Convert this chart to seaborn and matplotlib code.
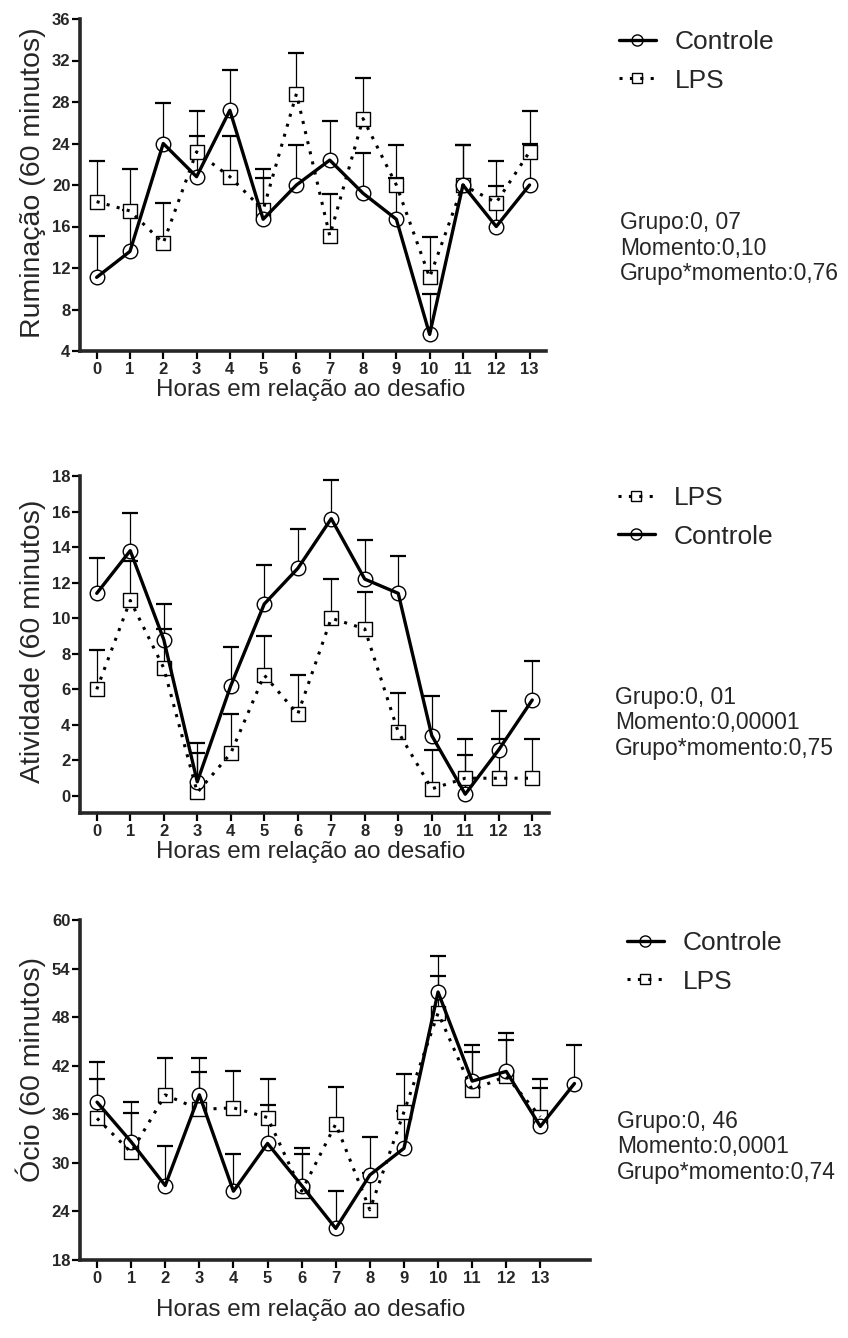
import numpy as np
import pandas as pd
import matplotlib
matplotlib.use("Agg")
import matplotlib.pyplot as plt
from matplotlib.lines import Line2D
import seaborn as sns

# ---- data -------------------------------------------------------------
horas = list(range(14))
horas_ocio_ctrl = list(range(15))

rum_ctrl = [11.1, 13.6, 24.0, 20.8, 27.2, 16.7, 20.0, 22.4, 19.2, 16.7, 5.6, 20.0, 16.0, 20.0]
rum_ctrl_err = [4.0, 4.0, 3.9, 3.9, 3.9, 4.0, 3.9, 3.8, 3.9, 4.0, 3.9, 3.9, 3.9, 4.0]
rum_lps = [18.4, 17.5, 14.4, 23.2, 20.8, 17.6, 28.8, 15.1, 26.4, 20.0, 11.1, 20.0, 18.3, 23.2]
rum_lps_err = [3.9, 4.0, 3.9, 3.9, 3.9, 3.9, 3.9, 4.0, 3.9, 3.9, 3.9, 3.9, 4.0, 3.9]

atv_ctrl = [11.4, 13.8, 8.8, 0.8, 6.2, 10.8, 12.8, 15.6, 12.2, 11.4, 3.4, 0.1, 2.6, 5.4]
atv_ctrl_err = [2.0, 2.1, 2.0, 2.2, 2.2, 2.2, 2.2, 2.2, 2.2, 2.1, 2.2, 2.2, 2.2, 2.2]
atv_lps = [6.0, 11.0, 7.2, 0.2, 2.4, 6.8, 4.6, 10.0, 9.4, 3.6, 0.4, 1.0, 1.0, 1.0]
atv_lps_err = [2.2, 2.2, 2.2, 2.2, 2.2, 2.2, 2.2, 2.2, 2.1, 2.2, 2.2, 2.2, 2.2, 2.2]

ocio_ctrl = [37.5, 32.6, 27.2, 38.4, 26.5, 32.4, 27.2, 21.9, 28.5, 31.8, 51.1, 40.1, 41.3, 34.5, 39.8]
ocio_ctrl_err = [4.9, 4.9, 4.9, 4.6, 4.6, 4.7, 4.6, 4.6, 4.7, 4.6, 4.5, 4.5, 4.8, 4.7, 4.7]
ocio_lps = [35.5, 31.3, 38.4, 36.6, 36.8, 35.6, 26.5, 34.8, 24.2, 36.3, 48.5, 39.0, 40.7, 35.7]
ocio_lps_err = [4.8, 4.8, 4.6, 4.6, 4.6, 4.7, 4.6, 4.6, 4.6, 4.7, 4.6, 4.7, 4.5, 4.7]

xlabel = "Horas em relação ao desafio"
stats_rum = "Grupo:0, 07\nMomento:0,10\nGrupo*momento:0,76"
stats_atv = "Grupo:0, 01\nMomento:0,00001\nGrupo*momento:0,75"
stats_ocio = "Grupo:0, 46\nMomento:0,0001\nGrupo*momento:0,74"

# ---- style ------------------------------------------------------------
sns.set_style("ticks")
plt.rcParams["font.family"] = ["Liberation Sans", "DejaVu Sans"]
plt.rcParams["axes.linewidth"] = 2.6

W, H = 848, 1338
fig = plt.figure(figsize=(W / 100, H / 100), dpi=100)

DOT = (0, (1, 2.4))


def fx(px):
    return px / W


def fy(py):
    return 1 - py / H


def series(ax, x, y, err, kind):
    dotted = kind == "LPS"
    marker = "s" if dotted else "o"
    size = 90 if dotted else 110
    x = np.asarray(x)
    y = np.asarray(y)
    e = np.asarray(err)
    # upward error bars with caps
    ax.vlines(x, y, y + e, color="black", lw=0.9, zorder=1)
    ax.scatter(x, y + e, marker="_", s=130, color="black", linewidths=1.6, zorder=1)
    # markers
    sns.scatterplot(x=x, y=y, ax=ax, marker=marker, s=size, facecolor="white",
                    edgecolor="black", linewidth=1.0, zorder=3, legend=False)
    # connecting line
    sns.lineplot(x=x, y=y, ax=ax, color="black",
                 lw=2.2 if dotted else 2.4,
                 linestyle=DOT if dotted else "-", zorder=4, legend=False,
                 dash_capstyle="butt")


def style_axis(ax, yticks, ylim, xlim, ylabel, xlab_xy, ylab_xy):
    sns.despine(ax=ax)
    ax.set_xlim(*xlim)
    ax.set_ylim(*ylim)
    ax.set_yticks(yticks)
    ax.set_xticks(horas)
    ax.set_xticklabels([str(h) for h in horas])
    ax.tick_params(axis="both", length=5.5, width=1.6, labelsize=12,
                   direction="out", color="black")
    ax.tick_params(axis="x", pad=2.5)
    ax.tick_params(axis="y", pad=1.5)
    for lab in ax.get_xticklabels() + ax.get_yticklabels():
        lab.set_fontweight("bold")
    ax.set_xlabel(xlabel, fontsize=17.5, va="center", ha="center")
    ax.set_ylabel(ylabel, fontsize=20.5, va="center", ha="center")
    ax.xaxis.set_label_coords(*xlab_xy)
    ax.yaxis.set_label_coords(*ylab_xy)


def add_legend(ax, order, x_px, top_px):
    handles = {
        "Controle": Line2D([], [], color="black", lw=2.4, marker="o", markersize=8,
                           mfc="none", mec="black", mew=1.0),
        "LPS": Line2D([], [], color="black", lw=2.2, linestyle=DOT, marker="s",
                      markersize=7, mfc="none", mec="black", mew=1.0),
    }
    ax.legend([handles[k] for k in order], order, loc="upper left",
              bbox_to_anchor=(fx(x_px), fy(top_px)), bbox_transform=fig.transFigure,
              frameon=False, fontsize=19, handlelength=1.4, handletextpad=0.7,
              labelspacing=0.55, borderpad=0, borderaxespad=0)


left_px = 80

# ---- Ruminação ----------------------------------------------------------
step, top, bot = 33.3, 19, 351
wpx = 14 * step
ax1 = fig.add_axes([fx(left_px), fy(bot), fx(wpx), (bot - top) / H])
series(ax1, horas, rum_lps, rum_lps_err, "LPS")
series(ax1, horas, rum_ctrl, rum_ctrl_err, "Controle")
style_axis(ax1, range(4, 37, 4), (4, 36), (-0.5, 13.5), "Ruminação (60 minutos)",
           ((311 - left_px) / wpx, -(390 - bot) / (bot - top)),
           ((33 - left_px) / wpx, (bot - 183) / (bot - top)))
add_legend(ax1, ["Controle", "LPS"], 619, 30)
fig.text(fx(620), fy(248), stats_rum, fontsize=16.5, va="center", ha="left",
         linespacing=1.15)

# ---- Atividade ----------------------------------------------------------
step, top, bot = 33.5, 476, 812.7
wpx = 14 * step
ax2 = fig.add_axes([fx(left_px), fy(bot), fx(wpx), (bot - top) / H])
series(ax2, horas, atv_lps, atv_lps_err, "LPS")
series(ax2, horas, atv_ctrl, atv_ctrl_err, "Controle")
style_axis(ax2, range(0, 19, 2), (-0.94, 18), (-0.5, 13.5), "Atividade (60 minutos)",
           ((311 - left_px) / wpx, -(852 - bot) / (bot - top)),
           ((33 - left_px) / wpx, (bot - 641) / (bot - top)))
add_legend(ax2, ["LPS", "Controle"], 618, 486)
fig.text(fx(615), fy(723), stats_atv, fontsize=16.5, va="center", ha="left",
         linespacing=1.15)

# ---- Ócio ---------------------------------------------------------------
step, top, bot = 34.1, 920, 1260
wpx = 14.95 * step
ax3 = fig.add_axes([fx(left_px), fy(bot), fx(wpx), (bot - top) / H])
series(ax3, horas, ocio_lps, ocio_lps_err, "LPS")
series(ax3, horas_ocio_ctrl, ocio_ctrl, ocio_ctrl_err, "Controle")
style_axis(ax3, range(18, 61, 6), (18, 60), (-0.5, 14.45), "Ócio (60 minutos)",
           ((311 - left_px) / wpx, -(1310 - bot) / (bot - top)),
           ((31 - left_px) / wpx, (bot - 1069) / (bot - top)))
add_legend(ax3, ["Controle", "LPS"], 627, 931)
fig.text(fx(617), fy(1147), stats_ocio, fontsize=16.5, va="center", ha="left",
         linespacing=1.15)

fig.savefig("out.png", dpi=100)
